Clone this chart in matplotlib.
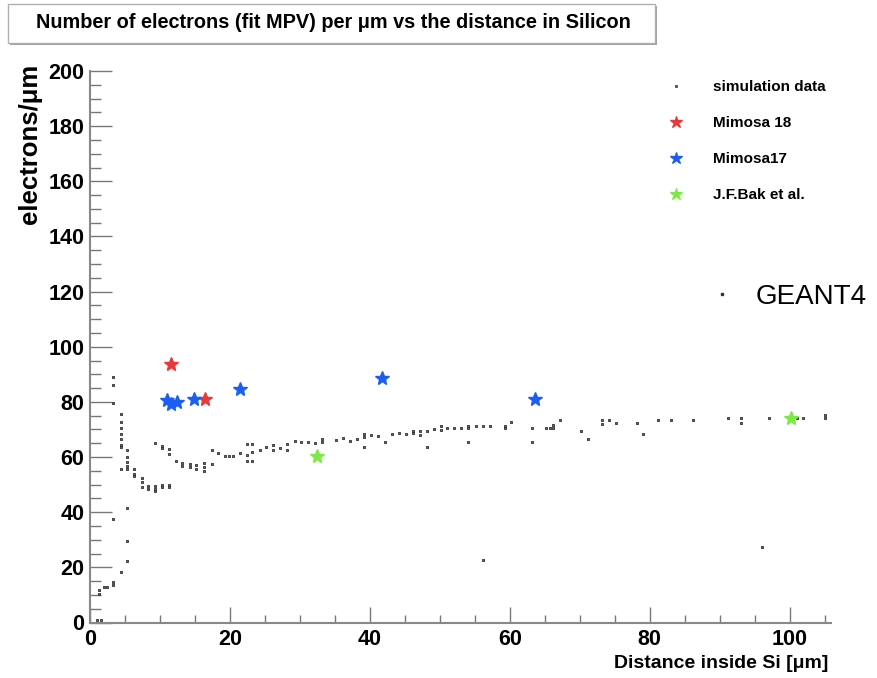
import numpy as np
import matplotlib
matplotlib.use('Agg')
import matplotlib.pyplot as plt
from matplotlib.lines import Line2D
from matplotlib.patches import Rectangle
from matplotlib.ticker import MultipleLocator

### data
# simulation data: (distance [um], electrons/um)
sim_x = [1.0, 1.6, 1.3, 1.3, 2.0, 2.5,
         3.3, 3.3, 3.3, 3.3, 3.3, 3.3,
         4.4, 4.4, 4.4, 4.4, 4.4, 4.4, 4.4, 4.4, 4.4,
         5.3, 5.3, 5.3, 5.3, 5.3, 5.3, 5.3, 5.3,
         6.3, 6.3, 6.3, 7.4, 7.4, 7.4, 8.3, 8.3,
         9.3, 9.3, 9.3, 9.3, 10.3, 10.3, 10.3, 10.3,
         11.3, 11.3, 11.3, 11.3, 12.3, 13.2, 13.2,
         14.3, 14.3, 15.2, 15.2, 16.3, 16.3, 16.3,
         17.4, 17.4, 18.3, 19.3, 19.9, 20.5, 21.4,
         22.4, 22.4, 22.4, 23.2, 23.2, 23.2, 24.3, 25.2,
         26.2, 26.2, 27.2, 28.2, 28.2, 29.3, 30.2, 31.2, 32.1,
         33.2, 33.2, 35.2, 36.2, 37.1, 38.1, 39.1, 39.1, 39.1,
         40.2, 41.2, 42.2, 43.1, 44.1, 45.1, 46.2, 46.2, 47.1, 47.1,
         48.2, 48.2, 49.1, 50.1, 50.1, 51.0, 52.0, 53.0,
         54.0, 54.0, 54.0, 55.1, 56.1, 56.1, 57.1, 59.3, 59.3, 60.2,
         63.2, 63.2, 65.1, 65.7, 66.2, 66.2, 67.2, 70.2, 71.2,
         73.2, 73.2, 74.2, 75.2, 78.2, 79.1, 81.2, 83.1, 86.2,
         91.2, 93.1, 93.1, 96.1, 97.1, 101.0, 101.9, 105.0, 105.0]
sim_y = [0.8, 0.8, 11.8, 10.5, 13.0, 13.0,
         14.8, 13.6, 37.4, 79.7, 86.0, 89.2,
         75.7, 72.8, 70.5, 68.5, 66.5, 64.5, 63.5, 55.8, 18.4,
         62.7, 60.0, 58.2, 56.8, 55.8, 41.5, 29.6, 22.4,
         55.8, 54.0, 53.0, 52.5, 51.0, 49.3, 49.5, 48.5,
         49.5, 48.5, 47.6, 65.0, 50.0, 49.0, 64.0, 63.2,
         50.0, 49.0, 63.0, 61.2, 58.6, 58.0, 56.8,
         57.5, 56.3, 57.0, 55.5, 58.0, 56.5, 55.0,
         62.7, 57.6, 61.5, 60.5, 60.5, 60.5, 61.5,
         64.8, 60.8, 58.7, 64.8, 62.0, 58.7, 62.4, 63.7,
         64.5, 62.5, 63.3, 64.8, 62.5, 65.8, 65.3, 65.3, 65.0,
         66.5, 65.3, 66.2, 66.8, 65.8, 66.7, 68.2, 67.1, 63.7,
         68.0, 67.5, 65.5, 68.2, 68.6, 68.2, 69.4, 68.6, 69.4, 68.0,
         69.5, 63.7, 70.0, 71.3, 69.8, 70.5, 70.5, 70.5,
         71.3, 70.5, 65.5, 71.2, 71.2, 22.5, 71.2, 71.3, 70.5, 72.8,
         70.5, 65.6, 70.5, 70.5, 71.7, 70.5, 73.3, 69.4, 66.7,
         73.3, 72.0, 73.3, 72.5, 72.4, 68.4, 73.3, 73.3, 73.3,
         74.1, 74.0, 72.2, 27.3, 74.1, 74.1, 74.1, 75.3, 74.1]

mim18_x = [11.6, 16.4]
mim18_y = [93.6, 81.2]

mim17_x = [11.0, 11.6, 12.5, 14.9, 21.4, 41.7, 63.6]
mim17_y = [80.7, 79.1, 79.9, 81.2, 84.8, 88.8, 81.2]

bak_x = [32.4, 100.2]
bak_y = [60.3, 74.3]

title = 'Number of electrons (fit MPV) per \u03bcm vs the distance in Silicon'
labels = ['simulation data', 'Mimosa 18', 'Mimosa17', 'J.F.Bak et al.']

### fonts
plt.rcParams['font.family'] = ['Liberation Sans', 'DejaVu Sans']

### figure
W, H = 877, 678
fig = plt.figure(figsize=(W / 100, H / 100), dpi=100)
ax = fig.add_axes([90 / W, 1 - 622.5 / H, 741 / W, 551.5 / H])

ax.plot(sim_x, sim_y, ls='none', marker='s', ms=2.1, mfc='#707070', mec='#2a2a2a', mew=0.6)
ax.plot(mim18_x, mim18_y, ls='none', marker='*', ms=10, color='#e8393a')
ax.plot(mim17_x, mim17_y, ls='none', marker='*', ms=10, color='#1c5ef0')
ax.plot(bak_x, bak_y, ls='none', marker='*', ms=10, color='#7ee84a')

ax.set_xlim(0, 105.9)
ax.set_ylim(0, 200)

### axes style (ROOT-like)
for s in ['top', 'right']:
    ax.spines[s].set_visible(False)
for s in ['left', 'bottom']:
    ax.spines[s].set_color('#888888')
    ax.spines[s].set_linewidth(1.5)
ax.xaxis.set_major_locator(MultipleLocator(20))
ax.xaxis.set_minor_locator(MultipleLocator(5))
ax.yaxis.set_major_locator(MultipleLocator(20))
ax.yaxis.set_minor_locator(MultipleLocator(5))
ax.tick_params(axis='x', which='major', direction='in', length=11.5, width=1, color='#777777', pad=5)
ax.tick_params(axis='x', which='minor', direction='in', length=5.8, width=1, color='#777777')
ax.tick_params(axis='y', which='major', direction='in', length=16, width=1, color='#777777', pad=4)
ax.tick_params(axis='y', which='minor', direction='in', length=8, width=1, color='#777777')
for lab in ax.get_xticklabels() + ax.get_yticklabels():
    lab.set_fontsize(15.5)
    lab.set_fontweight('bold')

### axis titles
fig.text(828 / W, 1 - 664 / H, 'Distance inside Si [\u03bcm]', ha='right', va='center',
         fontsize=14, fontweight='bold')
fig.text(30 / W, 1 - 64 / H, 'electrons/\u03bcm', ha='center', va='top', rotation=90,
         fontsize=18.5, fontweight='bold')

### title box with shadow
fig.patches.append(Rectangle((10 / W, 1 - 45 / H), 647 / W, 39 / H, transform=fig.transFigure,
                             fc='#a0a0a0', ec='none'))
fig.patches.append(Rectangle((8 / W, 1 - 43 / H), 647 / W, 39 / H, transform=fig.transFigure,
                             fc='white', ec='#b0b0b0', lw=1))
fig.text(333 / W, 1 - 23 / H, title, ha='center', va='center', fontsize=14.3, fontweight='bold')

### legend
handles = [Line2D([], [], ls='none', marker='s', ms=1.2, color='#555555'),
           Line2D([], [], ls='none', marker='*', ms=9, color='#e8393a'),
           Line2D([], [], ls='none', marker='*', ms=9, color='#1c5ef0'),
           Line2D([], [], ls='none', marker='*', ms=9, color='#7ee84a')]
leg = fig.legend(handles, labels, loc='upper left', bbox_to_anchor=(670 / W, 1 - 80 / H),
                 frameon=False, handlelength=0.8, handletextpad=2.0, labelspacing=1.45,
                 borderpad=0, borderaxespad=0, prop={'size': 11, 'weight': 'bold'})

g4 = fig.legend([Line2D([], [], ls='none', marker='s', ms=1.5, color='#333333')], ['GEANT4'],
                loc='center left', bbox_to_anchor=(714 / W, 1 - 297 / H), frameon=False,
                handlelength=0.6, handletextpad=0.9, borderpad=0, borderaxespad=0,
                prop={'size': 20})

fig.savefig('out.png', dpi=100)
